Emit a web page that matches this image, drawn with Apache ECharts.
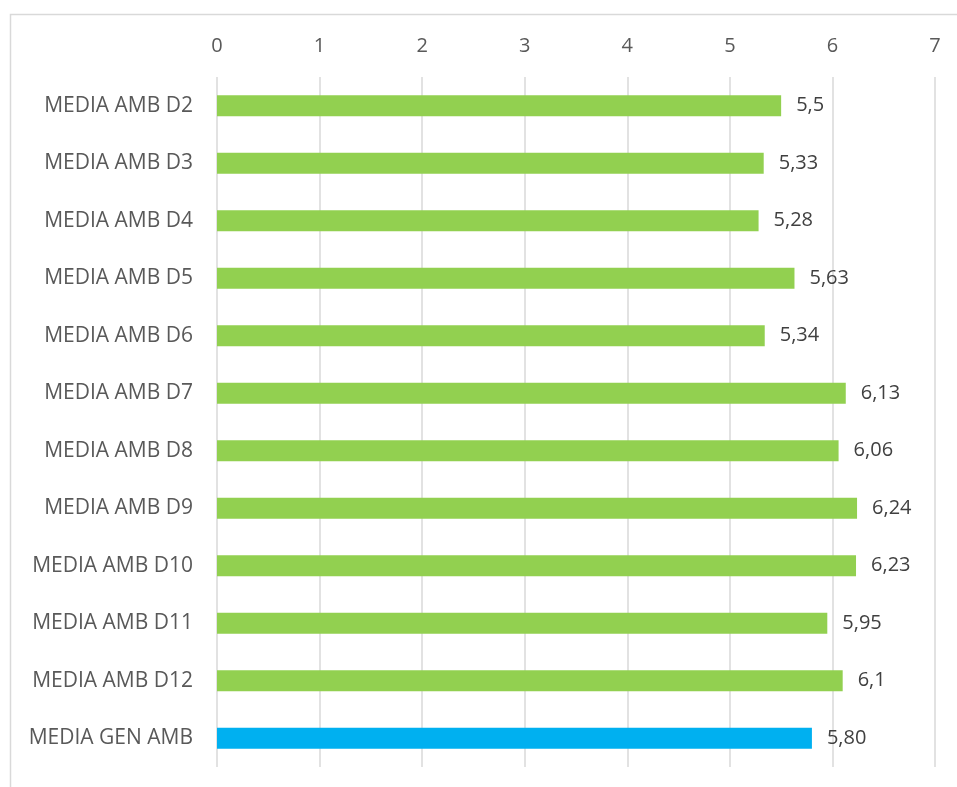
<!DOCTYPE html>
<html>
<head>
<meta charset="utf-8">
<script src="https://cdn.jsdelivr.net/npm/echarts@6/dist/echarts.min.js"></script>
<style>
html,body{margin:0;padding:0;background:#fff;}
#c{width:957px;height:787px;}
</style>
</head>
<body>
<div id="c"></div>
<script>
const categories = ["MEDIA AMB D2","MEDIA AMB D3","MEDIA AMB D4","MEDIA AMB D5","MEDIA AMB D6","MEDIA AMB D7","MEDIA AMB D8","MEDIA AMB D9","MEDIA AMB D10","MEDIA AMB D11","MEDIA AMB D12","MEDIA GEN AMB"];
const values = [5.5, 5.33, 5.28, 5.63, 5.34, 6.13, 6.06, 6.24, 6.23, 5.95, 6.1, 5.80];
const valueLabels = ["5,5","5,33","5,28","5,63","5,34","6,13","6,06","6,24","6,23","5,95","6,1","5,80"];
const tickLabels = ["0","1","2","3","4","5","6","7"];
const green = "#92D050", blue = "#00B0F0";

const chart = echarts.init(document.getElementById('c'), null, {renderer:'canvas'});
const font = "'Open Sans', sans-serif";
chart.setOption({
  animation:false,
  graphic:[{type:'rect', shape:{x:10.5,y:14.5,width:1000,height:1000}, style:{fill:'none', stroke:'#d9d9d9', lineWidth:1.5}, silent:true}],
  grid:{left:217, right:22, top:77, bottom:20},
  xAxis:{type:'value', position:'top', min:0, max:7, interval:1,
    axisLine:{show:false}, axisTick:{show:false},
    splitLine:{lineStyle:{color:'#d9d9d9', width:1.5}},
    axisLabel:{color:'#595959', fontSize:20, fontFamily:font, margin:21,
      formatter:(v)=>tickLabels[Math.round(v)]}},
  yAxis:{type:'category', inverse:true, data:categories,
    axisLine:{show:false}, axisTick:{show:false},
    axisLabel:{color:'#595959', fontSize:21, fontFamily:font, margin:24}},
  series:[{type:'bar', barWidth:21,
    data: values.map((v,i)=>({value:v, itemStyle:{color: i===values.length-1?blue:green}})),
    label:{show:true, position:'right', distance:15, color:'#404040', fontSize:20, fontFamily:font,
      formatter:(p)=>valueLabels[p.dataIndex]}}]
});
</script>
</body>
</html>
